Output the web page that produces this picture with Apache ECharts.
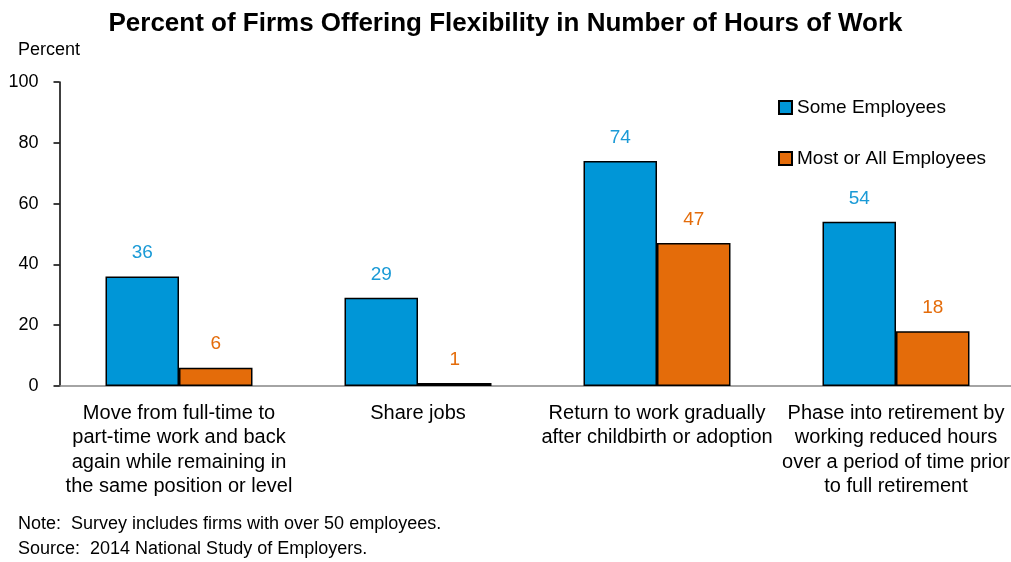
<!DOCTYPE html>
<html>
<head>
<meta charset="utf-8">
<script src="https://cdn.jsdelivr.net/npm/echarts@6/dist/echarts.min.js"></script>
<style>html,body{margin:0;padding:0;background:#fff}#c{width:1011px;height:562px}</style>
</head>
<body>
<div id="c"></div>
<script>
const categories = [
  "Move from full-time to\npart-time work and back\nagain while remaining in\nthe same position or level",
  "Share jobs",
  "Return to work gradually\nafter childbirth or adoption",
  "Phase into retirement by\nworking reduced hours\nover a period of time prior\nto full retirement"
];
const someEmployees = [36, 29, 74, 54];
const mostOrAllEmployees = [6, 1, 47, 18];
const yTicks = [0, 20, 40, 60, 80, 100];

const chart = echarts.init(document.getElementById('c'));
const FONT = 'Liberation Sans, Arial, sans-serif';
chart.setOption({
  animation: false,
  title: {
    text: 'Percent of Firms Offering Flexibility in Number of Hours of Work',
    left: 'center', top: 6,
    textStyle: { fontFamily: FONT, fontWeight: 'bold', fontSize: 26, color: '#000' }
  },
  graphic: [
    { type: 'text', left: 18, top: 41, style: { text: 'Percent', font: '18px ' + FONT, fill: '#000' } },
    { type: 'text', left: 18, top: 515, style: { text: 'Note:  Survey includes firms with over 50 employees.', font: '18px ' + FONT, fill: '#000' } },
    { type: 'text', left: 18, top: 540, style: { text: 'Source:  2014 National Study of Employers.', font: '18px ' + FONT, fill: '#000' } }
  ],
  legend: {
    orient: 'vertical', left: 778, top: 98, itemGap: 32, padding: 0,
    itemWidth: 13, itemHeight: 13, icon: 'rect',
    textStyle: { fontFamily: FONT, fontSize: 19, color: '#000' },
    data: ['Some Employees', 'Most or All Employees']
  },
  grid: { left: 59.5, width: 956, top: 82, bottom: 176, containLabel: false, outerBoundsMode: 'none' },
  xAxis: {
    type: 'category', data: categories,
    axisLine: { lineStyle: { color: '#868686', width: 1.5 } },
    axisTick: { show: false },
    axisLabel: { interval: 0, margin: 15, fontFamily: FONT, fontSize: 20, color: '#000', lineHeight: 24.5 }
  },
  yAxis: {
    type: 'value', min: 0, max: 100, interval: 20,
    axisLine: { show: true, lineStyle: { color: '#000', width: 1.5 } },
    axisTick: { show: true, length: 6, lineStyle: { color: '#000', width: 1.5 } },
    splitLine: { show: false },
    axisLabel: { margin: 21, fontFamily: FONT, fontSize: 18, color: '#000',
      formatter: v => yTicks.includes(v) ? String(v) : '' }
  },
  series: [
    {
      name: 'Some Employees', type: 'bar', data: someEmployees,
      barGap: '0%', barCategoryGap: '38.5%',
      itemStyle: { color: '#0096D7', borderColor: '#000', borderWidth: 1.5 },
      label: { show: true, position: 'top', distance: 14, fontFamily: FONT, fontSize: 19, color: '#1A9AD6' }
    },
    {
      name: 'Most or All Employees', type: 'bar', data: mostOrAllEmployees,
      itemStyle: { color: '#E46C0A', borderColor: '#000', borderWidth: 1.5 },
      label: { show: true, position: 'top', distance: 14, fontFamily: FONT, fontSize: 19, color: '#E46C0A' }
    }
  ]
});
</script>
</body>
</html>
